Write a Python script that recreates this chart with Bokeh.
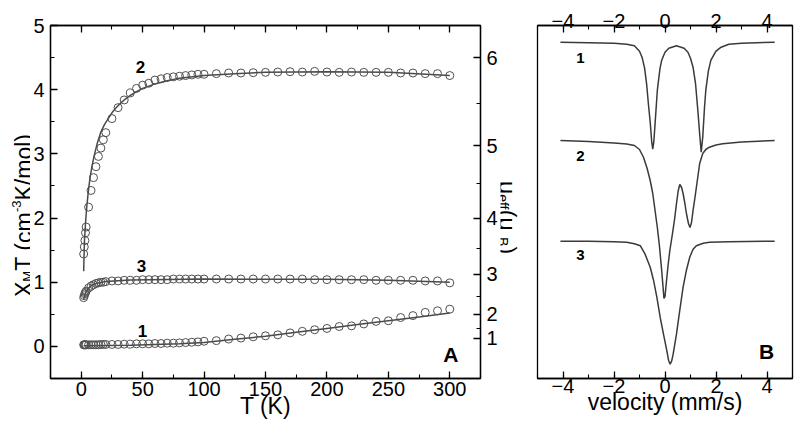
import math
from bokeh.plotting import figure
from bokeh.layouts import row
from bokeh.models import (LinearAxis, FixedTicker, SingleIntervalTicker, Label, Range1d,
                          CustomLabelingPolicy)
from bokeh.embed import file_html
from bokeh.resources import INLINE

FONT = "Liberation Sans"

# ---------------- Panel A data ----------------
T_data = [2, 2.5, 3, 3.5, 4, 6, 8, 10, 12, 14, 16, 18, 20,
          25, 30, 35, 40, 45, 50, 55, 60, 65, 70, 75, 80, 85, 90, 95, 100,
          110, 120, 130, 140, 150, 160, 170, 180, 190, 200,
          210, 220, 230, 240, 250, 260, 270, 280, 290, 300]
chi2 = [1.44, 1.55, 1.65, 1.77, 1.86, 2.17, 2.43, 2.63, 2.80, 2.96, 3.09, 3.22, 3.33,
        3.55, 3.72, 3.84, 3.95, 4.02, 4.07, 4.10, 4.15, 4.17, 4.19, 4.20, 4.21, 4.22, 4.23, 4.24, 4.24,
        4.25, 4.26, 4.26, 4.265, 4.27, 4.275, 4.28, 4.275, 4.285, 4.275,
        4.27, 4.275, 4.27, 4.27, 4.27, 4.26, 4.26, 4.25, 4.25, 4.22]
chi3 = [0.76, 0.79, 0.82, 0.84, 0.86, 0.91, 0.94, 0.96, 0.98, 0.99, 1.00, 1.00, 1.01,
        1.02, 1.02, 1.03, 1.03, 1.03, 1.04, 1.04, 1.04, 1.04, 1.04, 1.05, 1.05, 1.05, 1.05, 1.05, 1.05,
        1.05, 1.05, 1.05, 1.05, 1.05, 1.05, 1.05, 1.05, 1.04, 1.04,
        1.04, 1.04, 1.04, 1.03, 1.03, 1.03, 1.03, 1.02, 1.02, 0.99]
chi1 = [0.025, 0.025, 0.025, 0.025, 0.025, 0.025, 0.025, 0.025, 0.025, 0.025, 0.03, 0.03, 0.03,
        0.03, 0.03, 0.035, 0.035, 0.04, 0.04, 0.04, 0.045, 0.045, 0.05, 0.05, 0.055, 0.06, 0.065, 0.07, 0.08,
        0.09, 0.115, 0.13, 0.15, 0.165, 0.18, 0.21, 0.235, 0.26, 0.28,
        0.31, 0.32, 0.35, 0.39, 0.40, 0.45, 0.48, 0.53, 0.555, 0.58]

T_fit2 = [2, 2.3, 2.65, 3.5, 4.5, 5.8, 7.2, 8.8, 10.4, 13, 15.8, 19, 22, 25, 28, 32, 35,
          40, 45, 50, 60, 70, 80, 100, 125, 150, 200, 250, 300]
fit2 = [1.17, 1.40, 1.65, 1.92, 2.17, 2.42, 2.63, 2.81, 2.96, 3.16, 3.33, 3.46, 3.55, 3.64, 3.71, 3.79, 3.84,
        3.91, 3.97, 4.02, 4.09, 4.14, 4.18, 4.22, 4.25, 4.27, 4.28, 4.27, 4.22]
T_fit3 = [2, 3, 4, 6, 8, 12, 20, 40, 100, 200, 250, 300]
fit3 = [0.73, 0.80, 0.85, 0.91, 0.945, 0.98, 1.01, 1.035, 1.05, 1.045, 1.03, 1.00]
T_fit1 = [2, 40, 80, 100, 125, 150, 175, 200, 225, 250, 275, 300]
fit1 = [0.01, 0.02, 0.04, 0.06, 0.11, 0.16, 0.22, 0.28, 0.34, 0.40, 0.46, 0.52]

mu_ticks = [1, 2, 3, 4, 5, 6]
mu_minor = [1.5, 2.5, 3.5, 4.5, 5.5]

# ---------------- Panel B data (absorption, %) ----------------
v1 = [-4.1, -3.0, -2.0, -1.5, -1.2, -1.0, -0.9, -0.8, -0.72, -0.65, -0.58, -0.52, -0.48, -0.44, -0.38,
      -0.3, -0.2, -0.13, 0.0, 0.15, 0.45, 0.75, 0.9, 1.0, 1.1, 1.2, 1.3, 1.36, 1.42, 1.48,
      1.55, 1.6, 1.7, 1.8, 2.0, 2.2, 2.5, 3.0, 4.3]
abs1 = [0, 0.05, 0.1, 0.2, 0.35, 0.9, 1.5, 2.6, 4.2, 6.2, 8.0, 10.0, 10.7, 10.0, 7.8,
        4.8, 2.7, 1.8, 1.0, 0.6, 0.35, 0.6, 1.0, 1.6, 2.5, 4.2, 7.2, 9.2, 11.0, 9.5,
        6.5, 4.8, 2.9, 1.8, 0.9, 0.5, 0.2, 0.1, 0]
v2 = [-4.1, -3.0, -2.0, -1.5, -1.2, -1.0, -0.84, -0.7, -0.58, -0.48, -0.39, -0.3, -0.22, -0.13, -0.04,
      0.0, 0.06, 0.12, 0.19, 0.3, 0.38, 0.45, 0.52, 0.58, 0.65, 0.71, 0.78, 0.84, 0.92, 0.98,
      1.04, 1.1, 1.17, 1.23, 1.3, 1.36, 1.48, 1.6, 1.74, 2.0, 2.26, 3.0, 4.3]
abs2 = [0, 0.1, 0.25, 0.35, 0.5, 0.9, 1.7, 2.8, 4.0, 5.3, 7.0, 8.7, 10.5, 13.0, 15.8,
        15.6, 14.0, 12.5, 11.0, 9.2, 7.8, 6.3, 5.0, 4.4, 4.7, 5.3, 6.3, 7.3, 8.3, 8.7,
        8.2, 7.0, 5.8, 4.7, 3.4, 2.3, 1.3, 0.9, 0.67, 0.45, 0.33, 0.15, 0]
v3 = [-4.1, -3.0, -2.0, -1.5, -1.2, -0.97, -0.78, -0.58, -0.45, -0.32, -0.19, -0.06, 0.06, 0.14, 0.2,
      0.26, 0.32, 0.45, 0.58, 0.71, 0.84, 0.97, 1.1, 1.23, 1.5, 1.74, 2.5, 4.3]
abs3 = [0, 0, 0.05, 0.1, 0.25, 0.45, 1.3, 2.6, 3.9, 5.6, 7.6, 9.3, 10.8, 11.9, 12.3,
        12.0, 11.3, 9.3, 6.9, 4.6, 2.9, 1.6, 0.8, 0.45, 0.2, 0.1, 0.05, 0]

# ---------------- helpers (page pixel -> data) ----------------
def ax(px): return -25 + (px - 47) * 350 / 435
def ay(py): return 5 - (py - 25) * 5.5 / 353
def bx(px): return -5 + (px - 537) * 10 / 255
def by(py): return (378 - py) * 35.3 / 353

CW = {"X": .667, "M": .833, "T": .611, " ": .278, "(": .333, ")": .333, "c": .5, "m": .833,
      "-": .333, "3": .556, "K": .667, "/": .278, "o": .556, "l": .222, "μ": .576,
      "e": .556, "f": .278, "B": .667}
def tw(s, size): return sum(CW.get(ch, .55) for ch in s) * size

H = 430
FT, FB = 25, 378   # frame top / bottom (page px)
NO_LABELS_CODE = """
try { return new indices.constructor(indices.size); }
catch (e) { for (const i of Array.from(indices)) indices.set(i, false); return indices; }
"""


def style_axis(a, labels=True, size="20px", standoff=4):
    a.axis_line_width = 1.3
    a.axis_line_color = "black"
    a.major_tick_in = 7
    a.major_tick_out = 0
    a.minor_tick_in = 4
    a.minor_tick_out = 0
    a.major_tick_line_width = 1.3
    a.minor_tick_line_width = 1.1
    a.major_label_text_font = FONT
    a.major_label_text_color = "black"
    a.major_label_standoff = standoff
    a.major_label_text_font_size = size
    if not labels:
        a.major_label_policy = CustomLabelingPolicy(code=NO_LABELS_CODE)
    a.axis_label_text_font = FONT
    a.axis_label_text_font_style = "normal"
    a.axis_label_text_font_size = "23px"
    a.axis_label_text_color = "black"


def lab(p, x, y, text, size, bold=False, angle=0.0, align="center", baseline="middle"):
    p.add_layout(Label(x=x, y=y, text=text, text_font=FONT, text_font_size=size,
                       text_font_style="bold" if bold else "normal", text_color="black",
                       angle=angle, text_align=align, text_baseline=baseline))


def strip(x0, x1):
    s = figure(width=x1 - x0, height=H, x_range=Range1d(x0, x1), y_range=Range1d(FB, FT),
               output_backend="svg", toolbar_location=None, x_axis_location=None,
               y_axis_location=None, min_border=0, min_border_top=FT, min_border_bottom=H - FB)
    s.grid.visible = False
    s.outline_line_color = None
    return s


# ---------------- left title strip ----------------
sL = strip(0, 30)
pieces = [("X", 23, 0), ("M", 13, 3.5), ("T (cm", 23, 0), ("-3", 13, -8), ("K/mol)", 23, 0)]
total = sum(tw(s, f) for s, f, _ in pieces)
ystart = 215 + total / 2
cum = 0
for s, f, dx in pieces:
    lab(sL, 23.5 + dx, ystart - cum, s, f"{f}px", angle=math.pi / 2,
        align="left", baseline="alphabetic")
    cum += tw(s, f)

# ---------------- Panel A ----------------
pA = figure(width=470, height=H, x_range=(-25, 325), y_range=(-0.5, 5),
            output_backend="svg", toolbar_location=None,
            min_border_left=17, min_border_right=18, min_border_top=FT, min_border_bottom=H - FB)
pA.grid.visible = False
pA.outline_line_color = "black"
pA.outline_line_width = 1.3

pA.xaxis.ticker = SingleIntervalTicker(interval=50, num_minor_ticks=2)
pA.yaxis.ticker = SingleIntervalTicker(interval=1, num_minor_ticks=2)
style_axis(pA.xaxis[0], standoff=3)
style_axis(pA.yaxis[0], standoff=6)
pA.xaxis.axis_label = "T (K)"
pA.xaxis.axis_label_standoff = -6

topA = LinearAxis(ticker=SingleIntervalTicker(interval=50, num_minor_ticks=2))
style_axis(topA, labels=False, standoff=0)
pA.add_layout(topA, "above")

mu_pos = [m * m / 8 for m in mu_ticks]
rightA = LinearAxis(ticker=FixedTicker(ticks=mu_pos, minor_ticks=[m * m / 8 for m in mu_minor]),
                    major_label_overrides={p: str(m) for p, m in zip(mu_pos, mu_ticks)})
style_axis(rightA, standoff=6)
pA.add_layout(rightA, "right")

fitc = "#4a4a4a"
ptc = "#505050"
for Tf, f in [(T_fit2, fit2), (T_fit3, fit3), (T_fit1, fit1)]:
    pA.line(Tf, f, line_color=fitc, line_width=1.5)
for c in [chi2, chi3, chi1]:
    pA.scatter(T_data, c, marker="circle", size=8, fill_color=None,
               line_color=ptc, line_width=1.0)

lab(pA, ax(138), ay(66), "2", "17px", True)
lab(pA, ax(139), ay(265), "3", "17px", True)
lab(pA, ax(140), ay(330), "1", "17px", True)
lab(pA, ax(452), ay(354), "A", "21px", True)

# ---------------- right title strip ----------------
sR = strip(500, 527)
pieces = [("μ", 23, 0), ("eff", 14, -4), (" (μ", 23, 0), ("B", 14, -4), (")", 23, 0)]
total = sum(tw(s, f) for s, f, _ in pieces)
ystart = 217 - total / 2
cum = 0
for s, f, dx in pieces:
    lab(sR, 506 + dx, ystart + cum, s, f"{f}px", angle=-math.pi / 2,
        align="left", baseline="alphabetic")
    cum += tw(s, f)

# ---------------- Panel B ----------------
pB = figure(width=271, height=H, x_range=(-5, 5), y_range=(0, 35.3),
            output_backend="svg", toolbar_location=None, y_axis_location=None,
            min_border_left=10, min_border_right=6, min_border_top=FT, min_border_bottom=H - FB)
pB.grid.visible = False
pB.outline_line_color = "black"
pB.outline_line_width = 1.3
pB.xaxis.ticker = SingleIntervalTicker(interval=2, num_minor_ticks=2)
style_axis(pB.xaxis[0], standoff=0)
pB.xaxis.axis_label = "velocity (mm/s)"
pB.xaxis.axis_label_standoff = -7
topB = LinearAxis(ticker=SingleIntervalTicker(interval=2, num_minor_ticks=2))
style_axis(topB, standoff=-2)
pB.add_layout(topB, "above")

base = [by(41.7), by(140), by(240.7)]
for v, a, b0 in [(v1, abs1, base[0]), (v2, abs2, base[1]), (v3, abs3, base[2])]:
    pB.line(v, [b0 - x for x in a], line_color="#3a3a3a", line_width=1.5)

lab(pB, bx(580), by(57), "1", "15px", True)
lab(pB, bx(580), by(155), "2", "15px", True)
lab(pB, bx(580), by(254), "3", "15px", True)
lab(pB, bx(766), by(351), "B", "21px", True)

layout = row(sL, pA, sR, pB)
open("out.html", "w").write(file_html(layout, INLINE))
